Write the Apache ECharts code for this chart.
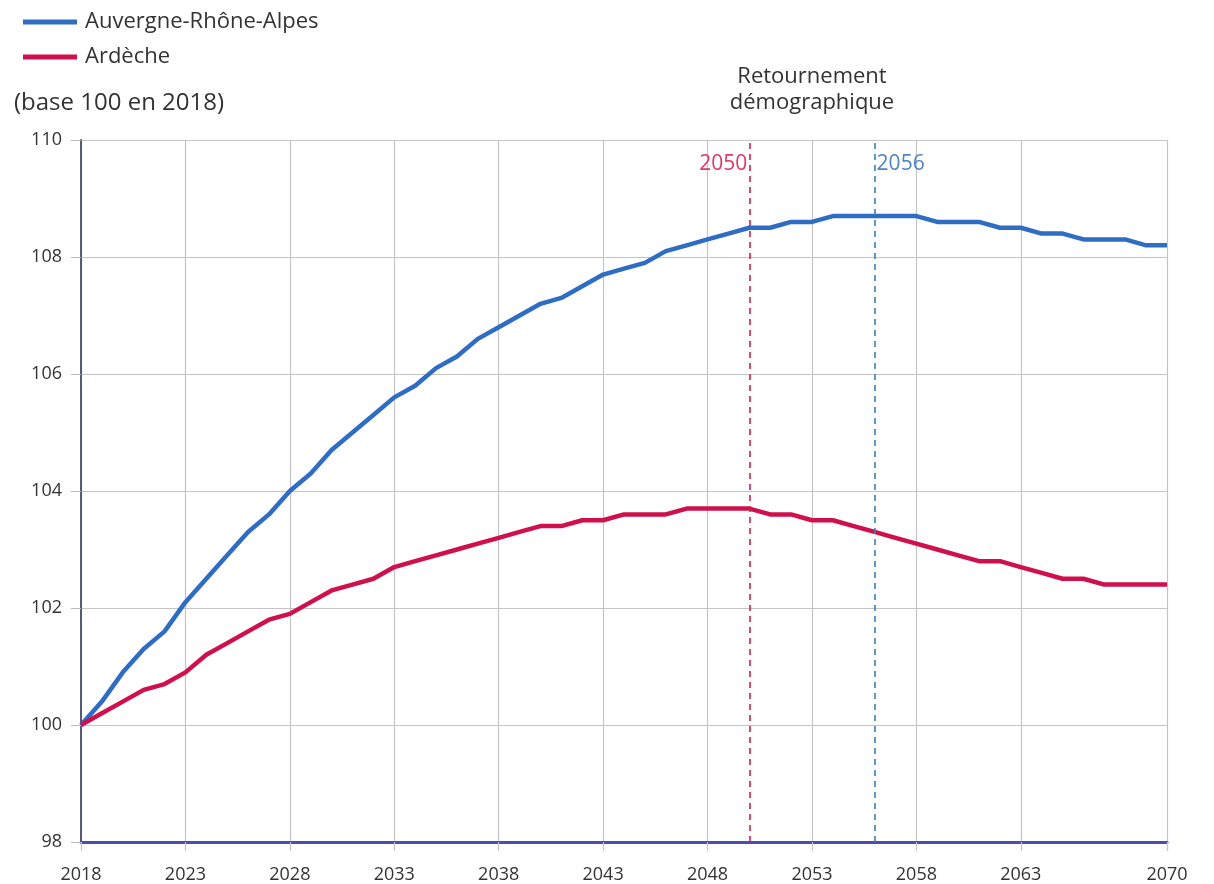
<!DOCTYPE html>
<html>
<head>
<meta charset="utf-8">
<script src="https://cdn.jsdelivr.net/npm/echarts@6/dist/echarts.min.js"></script>
<style>
html,body{margin:0;padding:0;background:#fff;}
#main{width:1214px;height:884px;}
</style>
</head>
<body>
<div id="main"></div>
<script>
var years = [];
for (var y = 2018; y <= 2070; y++) years.push(String(y));

var auraValues = [
  100.0, 100.4, 100.9, 101.3, 101.6, 102.1, 102.5, 102.9, 103.3, 103.6,
  104.0, 104.3, 104.7, 105.0, 105.3, 105.6, 105.8, 106.1, 106.3, 106.6,
  106.8, 107.0, 107.2, 107.3, 107.5, 107.7, 107.8, 107.9, 108.1, 108.2,
  108.3, 108.4, 108.5, 108.5, 108.6, 108.6, 108.7, 108.7, 108.7, 108.7,
  108.7, 108.6, 108.6, 108.6, 108.5, 108.5, 108.4, 108.4, 108.3, 108.3,
  108.3, 108.2, 108.2
];
var ardecheValues = [
  100.0, 100.2, 100.4, 100.6, 100.7, 100.9, 101.2, 101.4, 101.6, 101.8,
  101.9, 102.1, 102.3, 102.4, 102.5, 102.7, 102.8, 102.9, 103.0, 103.1,
  103.2, 103.3, 103.4, 103.4, 103.5, 103.5, 103.6, 103.6, 103.6, 103.7,
  103.7, 103.7, 103.7, 103.6, 103.6, 103.5, 103.5, 103.4, 103.3, 103.2,
  103.1, 103.0, 102.9, 102.8, 102.8, 102.7, 102.6, 102.5, 102.5, 102.4,
  102.4, 102.4, 102.4
];
var seriesNames = ['Auvergne-Rhône-Alpes', 'Ardèche'];
var xTickYears = ['2018','2023','2028','2033','2038','2043','2048','2053','2058','2063','2070'];
var turnYearArdeche = '2050';
var turnYearAura = '2056';

var FONT = '"Open Sans", "Noto Sans", sans-serif';
var BLUE = '#2f6cc4';
var RED = '#d0104c';

function isTick(index, value) {
  return xTickYears.indexOf(years[index]) >= 0;
}

var chart = echarts.init(document.getElementById('main'));
chart.setOption({
  animation: false,
  backgroundColor: '#ffffff',
  textStyle: { fontFamily: FONT },
  legend: {
    orient: 'vertical',
    left: 18,
    top: 4,
    itemWidth: 54,
    itemHeight: 5,
    itemGap: 9,
    icon: 'rect',
    textStyle: { fontFamily: FONT, fontSize: 22, color: '#333', lineHeight: 26, padding: [0, 0, 0, 3] },
    data: seriesNames
  },
  grid: { left: 81, right: 47, top: 140, bottom: 41, containLabel: false },
  xAxis: {
    type: 'category',
    data: years,
    boundaryGap: false,
    axisLine: { show: true, lineStyle: { color: '#4b4cb0', width: 3 } },
    axisTick: { show: true, interval: isTick, length: 9, lineStyle: { color: '#c4c4c4', width: 1.2 } },
    axisLabel: {
      interval: isTick,
      fontFamily: FONT, fontSize: 18, color: '#333', margin: 24
    },
    splitLine: {
      show: true,
      interval: isTick,
      lineStyle: { color: '#c4c4c4', width: 1.2 }
    }
  },
  yAxis: {
    type: 'value',
    min: 98, max: 110, interval: 2,
    axisLine: { show: true, lineStyle: { color: '#555a78', width: 2 } },
    axisTick: { show: true, length: 10, lineStyle: { color: '#bbbbbb' } },
    axisLabel: { fontFamily: FONT, fontSize: 18, color: '#333', margin: 19 },
    splitLine: { show: true, lineStyle: { color: '#c4c4c4', width: 1.2 } }
  },
  series: [
    {
      name: seriesNames[0],
      type: 'line',
      data: auraValues,
      symbol: 'none',
      lineStyle: { color: BLUE, width: 4.5 },
      itemStyle: { color: BLUE },
      z: 3,
      markLine: {
        silent: true,
        symbol: 'none',
        label: { show: false },
        lineStyle: { color: '#3b7fb4', type: [6, 5], width: 1.6 },
        data: [{ xAxis: turnYearAura }]
      },
      markPoint: {
        silent: true,
        symbol: 'circle',
        symbolSize: 0,
        label: { show: true, position: 'right', distance: 2, formatter: turnYearAura, color: '#4f86c2', fontSize: 21, fontFamily: FONT },
        data: [{ coord: [turnYearAura, 109.59] }]
      }
    },
    {
      name: seriesNames[1],
      type: 'line',
      data: ardecheValues,
      symbol: 'none',
      lineStyle: { color: RED, width: 4.5 },
      itemStyle: { color: RED },
      z: 4,
      markLine: {
        silent: true,
        symbol: 'none',
        label: { show: false },
        lineStyle: { color: '#c8224e', type: [6, 5], width: 1.6 },
        data: [{ xAxis: turnYearArdeche }]
      },
      markPoint: {
        silent: true,
        symbol: 'circle',
        symbolSize: 0,
        label: { show: true, position: 'left', distance: 2, formatter: turnYearArdeche, color: '#dc3868', fontSize: 21, fontFamily: FONT },
        data: [{ coord: [turnYearArdeche, 109.59] }]
      }
    }
  ],
  graphic: [
    {
      type: 'text',
      left: 14,
      top: 91,
      style: { text: '(base 100 en 2018)', font: '24px ' + FONT, fill: '#333' }
    },
    {
      type: 'text',
      x: 812,
      y: 64,
      style: { text: 'Retournement\ndémographique', font: '22px ' + FONT, fill: '#333', align: 'center', lineHeight: 26 }
    }
  ]
});
</script>
</body>
</html>
